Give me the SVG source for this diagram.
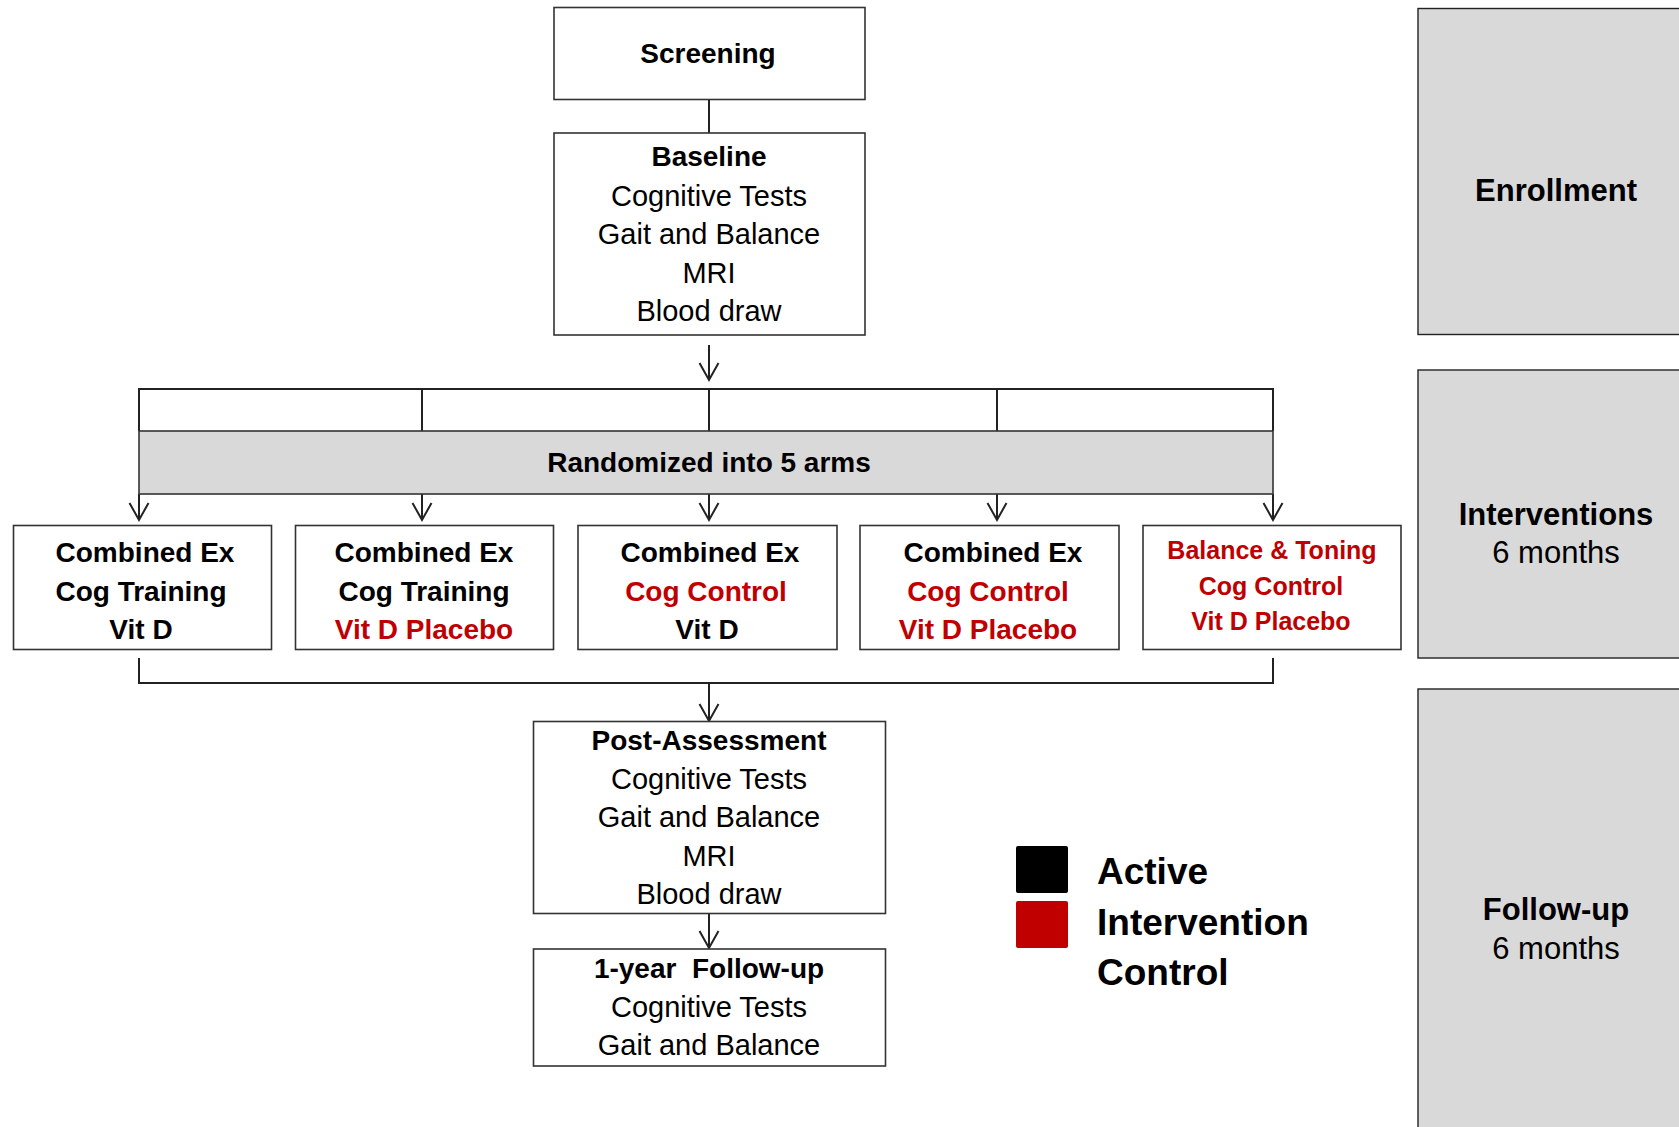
<svg xmlns="http://www.w3.org/2000/svg" width="1679" height="1127" viewBox="0 0 1679 1127">
<style>
.box{fill:#fff;stroke:#333;stroke-width:1.6}
.gray{fill:#d9d9d9;stroke:#333;stroke-width:1.6}
.side{fill:#d9d9d9;stroke:#222;stroke-width:1.4}
.ln{fill:none;stroke:#222;stroke-width:2}
.t{font-family:"Liberation Sans",Arial,sans-serif;font-size:29px;text-anchor:middle;fill:#000;dominant-baseline:central}
.b{font-weight:bold;font-size:28px}
.r{fill:#c00000}
.s{font-size:25px}
.sd{font-family:"Liberation Sans",Arial,sans-serif;font-size:31px;text-anchor:middle;fill:#000;dominant-baseline:central}
.lg{font-family:"Liberation Sans",Arial,sans-serif;font-size:37px;font-weight:bold;fill:#000}
</style>
<defs>
<marker id="ah" viewBox="-18 -10 20 20" refX="0" refY="0" markerWidth="20" markerHeight="20" orient="auto" markerUnits="userSpaceOnUse" overflow="visible">
<path d="M-17,-9.5 L0,0 L-17,9.5" fill="none" stroke="#222" stroke-width="2"/>
</marker>
</defs>
<rect width="1679" height="1127" fill="#fff"/>

<g id="connectors">
<line class="ln" x1="709" y1="99" x2="709" y2="133"/>
<line class="ln" x1="709" y1="345" x2="709" y2="380" marker-end="url(#ah)"/>
<polyline class="ln" points="139,431 139,389 1273,389 1273,431"/>
<line class="ln" x1="422" y1="389" x2="422" y2="431"/>
<line class="ln" x1="709" y1="389" x2="709" y2="431"/>
<line class="ln" x1="997" y1="389" x2="997" y2="431"/>
<line class="ln" x1="139" y1="494" x2="139" y2="520" marker-end="url(#ah)"/>
<line class="ln" x1="422" y1="494" x2="422" y2="520" marker-end="url(#ah)"/>
<line class="ln" x1="709" y1="494" x2="709" y2="520" marker-end="url(#ah)"/>
<line class="ln" x1="997" y1="494" x2="997" y2="520" marker-end="url(#ah)"/>
<line class="ln" x1="1273" y1="494" x2="1273" y2="520" marker-end="url(#ah)"/>
<polyline class="ln" points="139,658 139,683 1273,683 1273,658"/>
<line class="ln" x1="709" y1="683" x2="709" y2="721" marker-end="url(#ah)"/>
<line class="ln" x1="709" y1="913" x2="709" y2="948" marker-end="url(#ah)"/>
</g>

<g id="screening">
<rect class="box" x="554" y="7.5" width="311" height="92"/>
<text class="t b" x="708" y="53">Screening</text>
</g>

<g id="baseline">
<rect class="box" x="554" y="133" width="311" height="202"/>
<text class="t b" x="709" y="156">Baseline</text>
<text class="t" x="709" y="196">Cognitive Tests</text>
<text class="t" x="709" y="234">Gait and Balance</text>
<text class="t" x="709" y="273">MRI</text>
<text class="t" x="709" y="311">Blood draw</text>
</g>

<g id="randomized">
<rect class="gray" x="139" y="431" width="1134" height="63"/>
<text class="t b" x="709" y="462">Randomized into 5 arms</text>
</g>

<g id="arm1">
<rect class="box" x="13.5" y="525.5" width="258" height="124"/>
<text class="t b" x="145" y="552">Combined Ex</text>
<text class="t b" x="141" y="591">Cog Training</text>
<text class="t b" x="141" y="629">Vit D</text>
</g>

<g id="arm2">
<rect class="box" x="295.5" y="525.5" width="258" height="124"/>
<text class="t b" x="424" y="552">Combined Ex</text>
<text class="t b" x="424" y="591">Cog Training</text>
<text class="t b r" x="424" y="629">Vit D Placebo</text>
</g>

<g id="arm3">
<rect class="box" x="578" y="525.5" width="259" height="124"/>
<text class="t b" x="710" y="552">Combined Ex</text>
<text class="t b r" x="706" y="591">Cog Control</text>
<text class="t b" x="707" y="629">Vit D</text>
</g>

<g id="arm4">
<rect class="box" x="860" y="525.5" width="259" height="124"/>
<text class="t b" x="993" y="552">Combined Ex</text>
<text class="t b r" x="988" y="591">Cog Control</text>
<text class="t b r" x="988" y="629">Vit D Placebo</text>
</g>

<g id="arm5">
<rect class="box" x="1143" y="525.5" width="258" height="124"/>
<text class="t b r s" x="1272" y="550">Balance &amp; Toning</text>
<text class="t b r s" x="1271" y="586">Cog Control</text>
<text class="t b r s" x="1271" y="621">Vit D Placebo</text>
</g>

<g id="post-assessment">
<rect class="box" x="533.5" y="721.5" width="352" height="192"/>
<text class="t b" x="709" y="740">Post-Assessment</text>
<text class="t" x="709" y="779">Cognitive Tests</text>
<text class="t" x="709" y="817">Gait and Balance</text>
<text class="t" x="709" y="856">MRI</text>
<text class="t" x="709" y="894">Blood draw</text>
</g>

<g id="followup-1year">
<rect class="box" x="533.5" y="949" width="352" height="117"/>
<text class="t b" x="709" y="968" xml:space="preserve">1-year  Follow-up</text>
<text class="t" x="709" y="1007">Cognitive Tests</text>
<text class="t" x="709" y="1045">Gait and Balance</text>
</g>

<g id="legend">
<rect x="1016" y="846" width="52" height="47" rx="2" fill="#000"/>
<rect x="1016" y="901" width="52" height="47" rx="2" fill="#c00000"/>
<text class="lg" x="1097" y="884">Active</text>
<text class="lg" x="1097" y="935">Intervention</text>
<text class="lg" x="1097" y="985">Control</text>
</g>

<g id="phase-enrollment">
<rect class="side" x="1418" y="8.5" width="280" height="326"/>
<text class="sd b" x="1556" y="190">Enrollment</text>
</g>

<g id="phase-interventions">
<rect class="side" x="1418" y="370" width="280" height="288"/>
<text class="sd b" x="1556" y="514">Interventions</text>
<text class="sd" x="1556" y="552">6 months</text>
</g>

<g id="phase-followup">
<rect class="side" x="1418" y="689" width="280" height="460"/>
<text class="sd b" x="1556" y="909">Follow-up</text>
<text class="sd" x="1556" y="948">6 months</text>
</g>
</svg>
